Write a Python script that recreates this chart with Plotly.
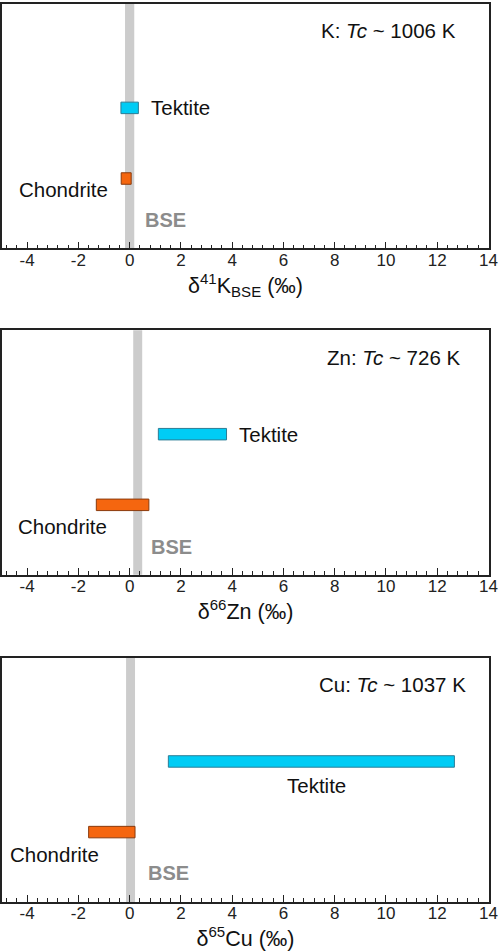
import plotly.graph_objects as go
from plotly.subplots import make_subplots

# Ranges (permil)
elements = ['K', 'Zn', 'Cu']
tc_labels = ['K: <i>Tc</i> ~ 1006 K', 'Zn: <i>Tc</i> ~ 726 K', 'Cu: <i>Tc</i> ~ 1037 K']
axis_titles = ['δ<sup>41</sup>K<sub>BSE</sub> (‰)', 'δ<sup>66</sup>Zn (‰)', 'δ<sup>65</sup>Cu (‰)']
tektite_lo = [-0.34, 1.12, 1.51]
tektite_hi = [0.34, 3.78, 12.67]
chondrite_lo = [-0.33, -1.30, -1.60]
chondrite_hi = [0.06, 0.75, 0.21]
bse_lo = [-0.18, 0.14, -0.14]
bse_hi = [0.18, 0.49, 0.21]
row_y = {'Tektite': 0.575, 'Chondrite': 0.286}
tick_vals = list(range(-4, 15, 2))
tick_text = [str(v) for v in tick_vals]

CYAN = '#00CCF5'
CYAN_EDGE = '#2C7D95'
ORANGE = '#F5660F'
ORANGE_EDGE = '#8A3A0C'
FONT = 'Liberation Sans, Arial, sans-serif'
TXT = dict(size=20.5, color='#111111')

fig = make_subplots(rows=3, cols=1)
domains = [[0.7278, 1.0], [0.3644, 0.6367], [0.0, 0.2722]]

# label placement per panel
tc_x = [12.8, 12.95, 13.2]
chon_x = [-0.78, -0.82, -1.13]
chon_y = [0.24, 0.196, 0.196]
bse_x = [0.54, 0.74, 0.62]
bse_y = [0.118, 0.114, 0.118]

for i in range(3):
    r = i + 1
    fig.add_trace(go.Bar(y=[row_y['Tektite']], x=[tektite_hi[i] - tektite_lo[i]], base=[tektite_lo[i]],
                         orientation='h', width=0.047,
                         marker=dict(color=CYAN, line=dict(color=CYAN_EDGE, width=1)),
                         showlegend=False), row=r, col=1)
    fig.add_trace(go.Bar(y=[row_y['Chondrite']], x=[chondrite_hi[i] - chondrite_lo[i]], base=[chondrite_lo[i]],
                         orientation='h', width=0.047,
                         marker=dict(color=ORANGE, line=dict(color=ORANGE_EDGE, width=1)),
                         showlegend=False), row=r, col=1)
    # BSE band (after traces, so the subplot is not skipped as empty)
    fig.add_vrect(x0=bse_lo[i], x1=bse_hi[i], fillcolor='#CCCCCC', opacity=1, line_width=0,
                  layer='below', row=r, col=1)

    xref = 'x' if i == 0 else 'x%d' % r
    yref = 'y' if i == 0 else 'y%d' % r
    # element / closure temperature label
    fig.add_annotation(x=tc_x[i], y=0.89, xref=xref, yref=yref, text=tc_labels[i], showarrow=False,
                       xanchor='right', font=TXT)
    # Tektite label
    if i < 2:
        fig.add_annotation(x=tektite_hi[i] + 0.42, y=row_y['Tektite'], xref=xref, yref=yref,
                           text='Tektite', showarrow=False, xanchor='left', font=TXT)
    else:
        fig.add_annotation(x=(tektite_lo[i] + tektite_hi[i]) / 2 + 0.2, y=row_y['Tektite'] - 0.097,
                           xref=xref, yref=yref, text='Tektite', showarrow=False, font=TXT)
    # Chondrite label
    fig.add_annotation(x=chon_x[i], y=chon_y[i], xref=xref, yref=yref,
                       text='Chondrite', showarrow=False, xanchor='right', font=TXT)
    # BSE label
    fig.add_annotation(x=bse_x[i], y=bse_y[i], xref=xref, yref=yref,
                       text='<b>BSE</b>', showarrow=False, xanchor='left',
                       font=dict(size=20, color='#8C8C8C'))

    fig.update_xaxes(range=[-4.98, 14.02], tickvals=tick_vals, ticktext=tick_text,
                     ticks='inside', ticklen=7, tickwidth=1, tickcolor='#222222',
                     minor=dict(dtick=0.4, tick0=0, ticks='inside', ticklen=4, tickcolor='#222222'),
                     showline=True, linecolor='#222222', linewidth=1.5, mirror=True,
                     showgrid=False, zeroline=False, ticklabelstandoff=-5,
                     tickfont=dict(size=17, color='#222222'),
                     title=dict(text=axis_titles[i], font=dict(size=21.5, color='#111111'), standoff=0),
                     row=r, col=1)
    fig.update_yaxes(range=[0, 1], domain=domains[i], showticklabels=False, ticks='',
                     showline=True, linecolor='#222222', linewidth=1.5, mirror=True,
                     showgrid=False, zeroline=False, row=r, col=1)

fig.update_layout(width=500, height=951, margin=dict(l=2, r=10, t=2, b=49),
                  plot_bgcolor='white', paper_bgcolor='white',
                  font=dict(family=FONT), barmode='overlay')

fig.write_html('out.html', config={'displayModeBar': False},
               post_script="document.body.style.margin='0';")
